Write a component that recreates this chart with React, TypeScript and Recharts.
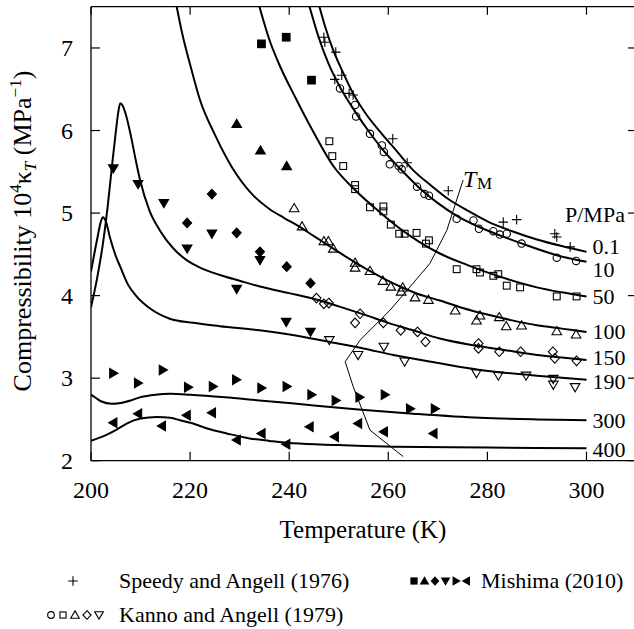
import React from 'react';
import { ComposedChart, Line, Scatter, XAxis, YAxis } from 'recharts';

const FONT = '"Liberation Serif","Times New Roman",serif';
type P = [number, number];

// ---- axes ----
const xTicks = [200, 220, 240, 260, 280, 300];
const yTicks = [2, 3, 4, 5, 6, 7];
const xDomain = [200, 310];
const yDomain = [2, 7.5];

// ---- model curves (T [K], 10^4 kappa_T [1/MPa]) ----
const pressureLabels = ['0.1', '10', '50', '100', '150', '190', '300', '400'];

const curveP01: P[] = [[246.1, 7.5], [247.2, 7.27], [248.9, 6.97], [250.5, 6.75], [252.9, 6.45], [255.5, 6.2], [258.7, 5.96], [262, 5.73], [265, 5.52], [268.5, 5.34], [272.1, 5.17], [276, 5.03], [280, 4.9], [285, 4.78], [290, 4.68], [295, 4.6], [300, 4.53]];
const curveP10: P[] = [[244.1, 7.5], [246, 7.12], [248, 6.8], [250.3, 6.52], [253.4, 6.22], [256.3, 5.97], [259, 5.76], [262.5, 5.53], [266, 5.32], [270, 5.12], [274, 4.96], [278, 4.84], [282.5, 4.73], [287, 4.63], [294, 4.49], [300, 4.41]];
const curveP50: P[] = [[234, 7.5], [236, 7.1], [238, 6.8], [241.5, 6.37], [245, 5.97], [248.9, 5.57], [253.3, 5.28], [258.3, 5.01], [262.4, 4.81], [266, 4.66], [270.4, 4.51], [276, 4.37], [282.5, 4.23], [290, 4.1], [295, 4.04], [300, 3.99]];
const curveP100: P[] = [[217.3, 7.5], [218.5, 7.15], [220, 6.8], [222, 6.37], [225, 5.95], [228.5, 5.55], [232.5, 5.23], [236, 5.05], [239, 4.94], [242.2, 4.83], [245, 4.72], [248.9, 4.57], [252, 4.45], [255.6, 4.32], [259, 4.21], [262.4, 4.11], [266, 4.02], [270.4, 3.94], [275, 3.85], [280, 3.77], [285, 3.7], [290, 3.64], [295, 3.6], [300, 3.56]];
const curveP150: P[] = [[200, 3.86], [201.2, 4.2], [202.5, 4.67], [203.4, 5.1], [204.2, 5.55], [205, 5.98], [205.5, 6.22], [205.9, 6.33], [206.4, 6.3], [207, 6.2], [208, 5.95], [209, 5.65], [209.9, 5.4], [211.8, 5.03], [213.9, 4.79], [216.5, 4.58], [219.3, 4.43], [222, 4.34], [226, 4.25], [230, 4.18], [234.1, 4.11], [240, 4.03], [245.6, 3.95], [250, 3.87], [255.6, 3.76], [260, 3.67], [265, 3.58], [270.4, 3.48], [276, 3.41], [282.5, 3.35], [290, 3.28], [295, 3.25], [300, 3.22]];
const curveP190: P[] = [[200, 4.29], [201.2, 4.67], [202, 4.9], [202.4, 4.95], [203, 4.9], [203.8, 4.71], [205, 4.48], [205.9, 4.35], [207.5, 4.13], [209.2, 3.99], [212, 3.84], [215.9, 3.72], [220.6, 3.67], [226, 3.63], [234, 3.58], [241, 3.52], [248, 3.44], [255, 3.36], [261, 3.28], [270.4, 3.18], [278.5, 3.1], [290, 3.03], [300, 2.98]];
const curveP300: P[] = [[200, 2.8], [201, 2.76], [202, 2.72], [204.2, 2.69], [206, 2.7], [208, 2.73], [210, 2.77], [213, 2.8], [216, 2.81], [220, 2.8], [227, 2.77], [234, 2.73], [245, 2.67], [254, 2.62], [265, 2.57], [278.5, 2.52], [290, 2.5], [300, 2.49]];
const curveP400: P[] = [[200, 2.24], [203, 2.31], [205, 2.37], [207.2, 2.45], [210, 2.51], [213.3, 2.53], [216, 2.52], [218, 2.49], [220.6, 2.45], [224, 2.38], [227.4, 2.33], [232, 2.27], [236, 2.24], [240.8, 2.21], [250, 2.19], [261, 2.17], [280, 2.16], [300, 2.15]];

// melting line T_M
const meltingLine: P[] = [[275.1, 5.4], [271.8, 4.79], [268.4, 4.39], [265, 4.15], [260.3, 3.82], [254.3, 3.46], [251.3, 3.2], [252.9, 2.9], [256.3, 2.37], [263, 2.05]];

// ---- experimental data ----
const speedy: P[] = [[247, 7.13], [247.2, 7.07], [249.4, 6.95], [250.6, 6.67], [249.2, 6.62], [252.1, 6.45], [252.9, 6.43], [260.9, 5.9], [263.8, 5.61], [272.1, 5.27], [283.2, 4.89], [285.9, 4.92], [293.6, 4.75], [294, 4.71], [296.7, 4.59]];
const kanno10: P[] = [[250.25, 6.51], [253.3, 6.31], [253.5, 6.17], [256.3, 5.96], [258.7, 5.82], [259.1, 5.74], [260.3, 5.59], [262.1, 5.57], [262.7, 5.53], [265.8, 5.32], [267.3, 5.23], [268.2, 5.21], [273.8, 4.93], [277.2, 4.91], [278.3, 4.81], [281.2, 4.78], [282.5, 4.74], [283.9, 4.75], [286.9, 4.63], [294, 4.46], [297.9, 4.42]];
const kanno50: P[] = [[248.1, 5.87], [248.7, 5.69], [250.9, 5.57], [253.3, 5.34], [253.3, 5.29], [256.3, 5.07], [259, 5.08], [259, 5.02], [260.5, 4.86], [262.2, 4.75], [263.3, 4.75], [265.7, 4.76], [267.6, 4.63], [268.2, 4.67], [273.8, 4.32], [277.8, 4.32], [278.5, 4.28], [281.2, 4.24], [282.2, 4.26], [283.9, 4.12], [286.6, 4.1], [294, 3.99], [298, 3.99]];
const kanno100: P[] = [[241, 5.06], [242.6, 4.84], [247, 4.66], [247.9, 4.66], [248.9, 4.57], [253.3, 4.4], [253.3, 4.34], [256.3, 4.3], [258.9, 4.18], [260.5, 4.11], [262.9, 4.1], [262.6, 4.05], [265.4, 3.98], [268.1, 3.95], [273.5, 3.82], [277.8, 3.7], [278.5, 3.76], [282.4, 3.74], [283.8, 3.63], [286.9, 3.64], [294, 3.57], [297.9, 3.53]];
const kanno150: P[] = [[245.5, 3.97], [247, 3.9], [248, 3.91], [254.3, 3.78], [253.3, 3.67], [259, 3.67], [262.5, 3.58], [265.9, 3.56], [267.5, 3.44], [278.2, 3.42], [278.2, 3.36], [282.4, 3.32], [286.7, 3.32], [293.2, 3.32], [293.6, 3.24], [298, 3.21]];
const kanno190: P[] = [[248.1, 3.46], [253.9, 3.28], [259.1, 3.38], [263.3, 3.2], [277.8, 3.06], [282.2, 3.03], [287.8, 3.03], [293.3, 2.99], [293.3, 2.92], [297.7, 2.89]];
const mishimaSquare: P[] = [[234.4, 7.05], [239.4, 7.13], [244.5, 6.61]];
const mishimaUp: P[] = [[229.4, 6.08], [234.2, 5.76], [239.5, 5.57]];
const mishimaDiamond: P[] = [[224.4, 5.23], [219.4, 4.88], [229.4, 4.76], [234.1, 4.53], [239.5, 4.35], [244.3, 4.15]];
const mishimaDown: P[] = [[204.5, 5.54], [209.5, 5.35], [214.7, 5.12], [219.4, 4.57], [224.4, 4.75], [229.4, 4.08], [234.1, 4.43], [239.4, 3.68], [244.3, 3.56]];
const mishimaRight: P[] = [[204.5, 3.06], [209.5, 2.94], [214.5, 3.1], [219.6, 2.89], [224.6, 2.9], [229.3, 2.98], [234.4, 2.88], [239.5, 2.9], [244.5, 2.8], [249.4, 2.73], [254.2, 2.77], [259.3, 2.8], [264.4, 2.63], [269.4, 2.63]];
const mishimaLeft: P[] = [[204.5, 2.46], [209.5, 2.57], [214.3, 2.42], [219.3, 2.55], [224.4, 2.58], [229.4, 2.25], [234.4, 2.33], [239.4, 2.2], [244.1, 2.41], [249.2, 2.29], [253.9, 2.45], [259.1, 2.35], [269.1, 2.33]];

// ---- helpers ----
const toData = (a: P[]) => a.map(([T, v]) => ({ T, v }));
const curves = [curveP01, curveP10, curveP50, curveP100, curveP150, curveP190, curveP300, curveP400];
const labelShift = [-5.5, 8, 0, 0, -2, 2, 0, 1];
const endLabels = curves.map((c, i) => ({ T: c[c.length - 1][0], v: c[c.length - 1][1], name: pressureLabels[i], i }));

type Kind = 'plus' | 'circle' | 'square' | 'up' | 'diamond' | 'down' | 'fsquare' | 'fup' | 'fdiamond' | 'fdown' | 'fright' | 'fleft';

function Mark({ kind, cx, cy, s = 1 }: { kind: Kind; cx: number; cy: number; s?: number }) {
  const filled = kind.startsWith('f');
  const fill = filled ? '#000' : 'none';
  const common = { fill, stroke: '#000', strokeWidth: 1.1 } as any;
  const pts = (a: number[][]) => a.map(([x, y]) => `${cx + x * s},${cy + y * s}`).join(' ');
  switch (kind) {
    case 'plus':
      return <path d={`M${cx - 4.8 * s},${cy}h${9.6 * s}M${cx},${cy - 4.8 * s}v${9.6 * s}`} stroke="#000" strokeWidth={1.1} fill="none" />;
    case 'circle':
      return <circle cx={cx} cy={cy} r={3.7 * s} {...common} />;
    case 'square':
      return <rect x={cx - 3.4 * s} y={cy - 3.4 * s} width={6.8 * s} height={6.8 * s} {...common} />;
    case 'fsquare':
      return <rect x={cx - 3.8 * s} y={cy - 3.8 * s} width={7.6 * s} height={7.6 * s} {...common} />;
    case 'up':
    case 'fup':
      return <polygon points={pts([[0, -4.6], [4.8, 3.6], [-4.8, 3.6]])} {...common} />;
    case 'down':
    case 'fdown':
      return <polygon points={pts([[0, 4.6], [4.8, -3.6], [-4.8, -3.6]])} {...common} />;
    case 'diamond':
    case 'fdiamond':
      return <polygon points={pts([[0, -4.8], [4.5, 0], [0, 4.8], [-4.5, 0]])} {...common} />;
    case 'fright':
      return <polygon points={pts([[4.6, 0], [-3.6, -4.8], [-3.6, 4.8]])} {...common} />;
    case 'fleft':
      return <polygon points={pts([[-4.6, 0], [3.6, -4.8], [3.6, 4.8]])} {...common} />;
  }
  return null;
}

const markerSeries: { data: P[]; kind: Kind }[] = [
  { data: speedy, kind: 'plus' },
  { data: kanno10, kind: 'circle' },
  { data: kanno50, kind: 'square' },
  { data: kanno100, kind: 'up' },
  { data: kanno150, kind: 'diamond' },
  { data: kanno190, kind: 'down' },
  { data: mishimaSquare, kind: 'fsquare' },
  { data: mishimaUp, kind: 'fup' },
  { data: mishimaDiamond, kind: 'fdiamond' },
  { data: mishimaDown, kind: 'fdown' },
  { data: mishimaRight, kind: 'fright' },
  { data: mishimaLeft, kind: 'fleft' },
];

const txt = { fontFamily: FONT, fill: '#000' } as any;

const BottomTick = (p: any) => (
  <g>
    <line x1={p.x} x2={p.x} y1={p.y} y2={p.y - 9} stroke="#000" strokeWidth={1.2} />
    <text x={p.x} y={p.y + 37} textAnchor="middle" {...txt} fontSize={24}>{p.payload.value}</text>
  </g>
);
const TopTick = (p: any) => <line x1={p.x} x2={p.x} y1={p.y} y2={p.y + 8} stroke="#000" strokeWidth={1.2} />;
const LeftTick = (p: any) => (
  <g>
    <line x1={p.x} x2={p.x + 9} y1={p.y} y2={p.y} stroke="#000" strokeWidth={1.2} />
    <text x={p.x - 18} y={p.y + 8} textAnchor="end" {...txt} fontSize={24}>{p.payload.value}</text>
  </g>
);
const RightTick = (p: any) => <line x1={p.x - 8} x2={p.x} y1={p.y} y2={p.y} stroke="#000" strokeWidth={1.2} />;

const axisLine = { stroke: '#000', strokeWidth: 1.3 };

export default function App() {
  return (
    <div style={{ position: 'absolute', left: 0, top: 0, width: 634, height: 629, overflow: 'hidden', background: '#fff' }}>
      <ComposedChart width={660} height={629} margin={{ top: 5.7, right: 22.95, bottom: 167.3, left: 90 }}>
        <XAxis xAxisId={0} dataKey="T" type="number" domain={xDomain} ticks={xTicks} interval={0} height={1} tickSize={0} tickMargin={0} tickLine={false} tick={BottomTick} axisLine={axisLine} allowDataOverflow />
        <XAxis xAxisId="t" orientation="top" dataKey="T" type="number" domain={xDomain} ticks={xTicks} interval={0} height={1} tickSize={0} tickMargin={0} tickLine={false} tick={TopTick} axisLine={axisLine} allowDataOverflow />
        <YAxis yAxisId={0} dataKey="v" type="number" domain={yDomain} ticks={yTicks} interval={0} width={1} tickSize={0} tickMargin={0} tickLine={false} tick={LeftTick} axisLine={axisLine} allowDataOverflow />
        <YAxis yAxisId="r" orientation="right" dataKey="v" type="number" domain={yDomain} ticks={yTicks} interval={0} width={1} tickSize={0} tickMargin={0} tickLine={false} tick={RightTick} axisLine={axisLine} allowDataOverflow />
        {curves.map((c, i) => (
          <Line key={'c' + i} data={toData(c)} dataKey="v" type="monotone" stroke="#000" strokeWidth={2} dot={false} isAnimationActive={false} />
        ))}
        <Line data={toData(meltingLine)} dataKey="v" type="linear" stroke="#000" strokeWidth={1} dot={false} isAnimationActive={false} />
        {markerSeries.map((m, i) => (
          <Scatter key={'m' + i} data={toData(m.data)} dataKey="v" isAnimationActive={false}
            shape={(p: any) => <Mark kind={m.kind} cx={p.cx} cy={p.cy} />} />
        ))}
        <Scatter data={endLabels} dataKey="v" isAnimationActive={false}
          shape={(p: any) => (
            <text x={p.cx + 6} y={p.cy + labelShift[p.payload.i] + 7.5} {...txt} fontSize={22}>{p.payload.name}</text>
          )} />
      </ComposedChart>
      <svg width={634} height={629} style={{ position: 'absolute', left: 0, top: 0, pointerEvents: 'none' }}>
        <text transform="translate(31,231) rotate(-90)" textAnchor="middle" {...txt} fontSize={26}>
          Compressibility 10<tspan dy={-10} fontSize={17}>4</tspan><tspan dy={10}>κ</tspan><tspan dy={5} fontSize={17} fontStyle="italic">T</tspan><tspan dy={-5}> (MPa</tspan><tspan dy={-10} fontSize={17}>−1</tspan><tspan dy={10}>)</tspan>
        </text>
        <text x={363} y={538} textAnchor="middle" {...txt} fontSize={25}>Temperature (K)</text>
        <text x={565} y={221.5} {...txt} fontSize={22}>P/MPa</text>
        <text x={463} y={187} {...txt} fontSize={24} fontStyle="italic">T</text>
        <text x={477} y={189} {...txt} fontSize={17}>M</text>
        {/* legend */}
        <Mark kind="plus" cx={73} cy={581} />
        <text x={119} y={588} {...txt} fontSize={22}>Speedy and Angell (1976)</text>
        {(['fsquare', 'fup', 'fdiamond', 'fdown', 'fright', 'fleft'] as Kind[]).map((k, i) => (
          <Mark key={k} kind={k} cx={414 + i * 10.5} cy={581} s={0.8} />
        ))}
        <text x={481} y={588} {...txt} fontSize={22}>Mishima (2010)</text>
        {(['circle', 'square', 'up', 'diamond', 'down'] as Kind[]).map((k, i) => (
          <Mark key={k} kind={k} cx={51 + i * 12} cy={615} s={0.9} />
        ))}
        <text x={119} y={622} {...txt} fontSize={22}>Kanno and Angell (1979)</text>
      </svg>
    </div>
  );
}
